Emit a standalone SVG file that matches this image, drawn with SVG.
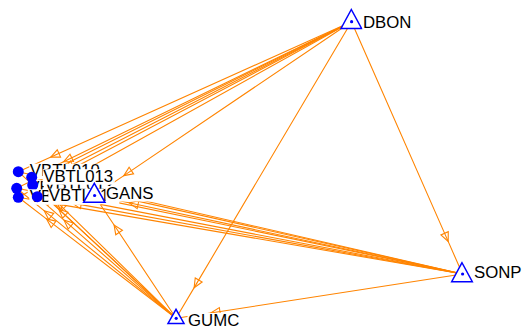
<svg xmlns="http://www.w3.org/2000/svg" width="530" height="330" viewBox="0 0 530 330">
  <style>
    .edge { fill: none; stroke: #ff8400; stroke-width: 1.1; marker-mid: url(#ah); }
    .vtx { fill: #0000ff; }
    .tri { fill: #ffffff; stroke: #0000ff; stroke-width: 1.5; stroke-linejoin: miter; }
    .dot { fill: #0000ff; }
    .bg { fill: #ffffff; }
    .lbl { font-family: "Liberation Sans", Arial, sans-serif; font-size: 16.8px; fill: #000000; }
  </style>
  <defs>
    <!-- hollow arrowhead placed part-way along each edge, pointing at the target -->
    <marker id="ah" markerUnits="userSpaceOnUse" viewBox="-6 -6 12 12" markerWidth="12" markerHeight="12" refX="0" refY="0" orient="auto" overflow="visible">
      <path d="M4.5,0 L-4.5,-4 L-4.5,4 Z" fill="none" stroke="#ff8400" stroke-width="1.1"/>
    </marker>
  </defs>
  <rect width="530" height="330" fill="#ffffff"/>

  <g id="edges">
    <!-- DBON out-edges -->
    <polyline class="edge" points="351.5,21.7 54.8,155.3 18.3,171.7"/>
    <polyline class="edge" points="351.5,21.7 67.7,159.8 31.7,177.3"/>
    <polyline class="edge" points="351.5,21.7 68.3,166.7 32.7,185"/>
    <polyline class="edge" points="351.5,21.7 52.5,170.5 16.7,188.3"/>
    <polyline class="edge" points="351.5,21.7 53.7,178.6 18.3,197.3"/>
    <polyline class="edge" points="351.5,21.7 72.2,177.2 37.3,196.7"/>
    <polyline class="edge" points="351.5,21.7 127.6,173.1 94.3,195.5"/>
    <polyline class="edge" points="351.5,21.7 446.4,237.4 462.5,274"/>
    <polyline class="edge" points="351.5,21.7 196.4,283.9 176,318.3"/>
    <!-- GUMC out-edges -->
    <polyline class="edge" points="176,318.3 47.6,198.9 18.3,171.7"/>
    <polyline class="edge" points="176,318.3 60.3,205.3 31.7,177.3"/>
    <polyline class="edge" points="176,318.3 62,212.2 32.7,185"/>
    <polyline class="edge" points="176,318.3 47.7,213.6 16.7,188.3"/>
    <polyline class="edge" points="176,318.3 50,221.6 18.3,197.3"/>
    <polyline class="edge" points="176,318.3 67.4,223.1 37.3,196.7"/>
    <polyline class="edge" points="176,318.3 116.6,228.8 94.3,195.5"/>
    <!-- SONP out-edges -->
    <polyline class="edge" points="462.5,274 57.3,180.7 18.3,171.7"/>
    <polyline class="edge" points="462.5,274 70.7,186.1 31.7,177.3"/>
    <polyline class="edge" points="462.5,274 71.9,193.1 32.7,185"/>
    <polyline class="edge" points="462.5,274 56,195.9 16.7,188.3"/>
    <polyline class="edge" points="462.5,274 57.7,204.1 18.3,197.3"/>
    <polyline class="edge" points="462.5,274 76.7,203.9 37.3,196.7"/>
    <polyline class="edge" points="462.5,274 133.6,203.8 94.3,195.5"/>
    <polyline class="edge" points="462.5,274 215.5,312.2 176,318.3"/>
  </g>

  <g id="VBTL010">
    <circle class="vtx" cx="18.3" cy="171.7" r="5.5"/>
    <rect class="bg" x="29.3" y="163.7" width="71" height="15.5"/>
    <text class="lbl" x="29.8" y="176.2">VBTL010</text>
  </g>
  <g id="VBTL011">
    <circle class="vtx" cx="16.7" cy="188.3" r="5.5"/>
    <rect class="bg" x="27.7" y="180.3" width="71" height="15.5"/>
    <text class="lbl" x="28.2" y="192.8">VBTL011</text>
  </g>
  <g id="VBTL012">
    <circle class="vtx" cx="32.7" cy="185" r="5.5"/>
    <rect class="bg" x="43.7" y="177" width="71" height="15.5"/>
    <text class="lbl" x="44.2" y="189.5">VBTL012</text>
  </g>
  <g id="VBTL013">
    <circle class="vtx" cx="31.7" cy="177.3" r="5.5"/>
    <rect class="bg" x="42.7" y="169.2" width="71" height="15.5"/>
    <text class="lbl" x="43.2" y="181.7">VBTL013</text>
  </g>
  <g id="VBTL014">
    <circle class="vtx" cx="18.3" cy="197.3" r="5.5"/>
    <rect class="bg" x="29.3" y="189.3" width="71" height="15.5"/>
    <text class="lbl" x="29.8" y="201.8">VBTL014</text>
  </g>
  <g id="VBTL015">
    <circle class="vtx" cx="37.3" cy="196.7" r="5.5"/>
    <rect class="bg" x="48.3" y="188.7" width="71" height="15.5"/>
    <text class="lbl" x="48.8" y="201.2">VBTL015</text>
  </g>

  <g id="GANS">
    <polygon class="tri" points="94.3,183.3 83.6,202.3 105,202.3"/>
    <circle class="dot" cx="94.6" cy="195.5" r="1.6"/>
    <rect class="bg" x="105.5" y="186" width="48.8" height="15.5"/>
    <text class="lbl" x="106" y="198.5">GANS</text>
  </g>
  <g id="DBON">
    <polygon class="tri" points="351.3,9.5 341,28.5 361.6,28.5"/>
    <circle class="dot" cx="351.6" cy="21.7" r="1.6"/>
    <rect class="bg" x="362.5" y="15.3" width="49.7" height="15.5"/>
    <text class="lbl" x="363" y="27.8">DBON</text>
  </g>
  <g id="SONP">
    <polygon class="tri" points="462,262.7 451.7,281.7 472.3,281.7"/>
    <circle class="dot" cx="462.6" cy="274" r="1.6"/>
    <rect class="bg" x="473.5" y="265.8" width="48.8" height="15.5"/>
    <text class="lbl" x="474" y="278.3">SONP</text>
  </g>
  <g id="GUMC">
    <polygon class="tri" points="176,309.3 168,323.5 184,323.5"/>
    <circle class="dot" cx="176.2" cy="318.3" r="1.6"/>
    <rect class="bg" x="187.5" y="313" width="52.4" height="15.5"/>
    <text class="lbl" x="188" y="325.5">GUMC</text>
  </g>
</svg>
